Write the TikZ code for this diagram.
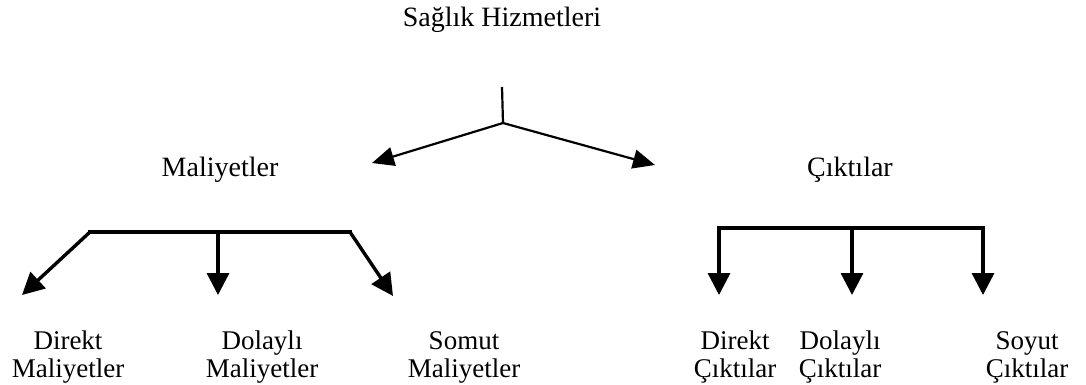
\documentclass[tikz,border=0pt]{standalone}
\usepackage{fontspec}
\setmainfont{Liberation Serif}
\usetikzlibrary{arrows.meta}
\begin{document}
\begin{tikzpicture}[x=1pt,y=-1pt,
  lbl/.style={font=\fontsize{28}{25}\selectfont, inner sep=0pt, align=center},
  leaf/.style={font=\fontsize{27}{28}\selectfont, inner sep=0pt, align=center},
  toparrow/.style={line width=2.2pt, -{Triangle[length=22pt,width=19pt]}},
  bar/.style={line width=3.4pt, line cap=rect},
  subarrow/.style={line width=3.4pt, -{Triangle[length=22pt,width=22pt]}}]
\useasboundingbox (0,0) rectangle (1086,384);

% headings
\node[lbl] (title) at (502,20) {Sağlık Hizmetleri};
\node[lbl] (mal) at (220,170) {Maliyetler};
\node[lbl] (cik) at (850,170) {Çıktılar};

% split from the title into the two branches
\coordinate (stem) at (502,87);
\coordinate (fork) at (503,123);
\coordinate (malTip) at (372,163);
\coordinate (cikTip) at (655,165);
\draw[line width=2.2pt] (stem) -- (fork);
\draw[toparrow] (fork) -- (malTip);
\draw[toparrow] (fork) -- (cikTip);

% cost branch
\coordinate (mL) at (90,232);
\coordinate (mM) at (218,232);
\coordinate (mR) at (350,232);
\coordinate (mLt) at (22,295);
\coordinate (mMt) at (218,295);
\coordinate (mRt) at (393,296);
\draw[bar] (mL) -- (mR);
\draw[subarrow] (mL) -- (mLt);
\draw[subarrow] (mM) -- (mMt);
\draw[subarrow] (mR) -- (mRt);

% output branch
\coordinate (cL) at (719,228);
\coordinate (cM) at (852,228);
\coordinate (cR) at (983,228);
\coordinate (cLt) at (719,295);
\coordinate (cMt) at (852,295);
\coordinate (cRt) at (983,295);
\draw[bar] (cL) -- (cR);
\draw[subarrow] (cL) -- (cLt);
\draw[subarrow] (cM) -- (cMt);
\draw[subarrow] (cR) -- (cRt);

% leaf labels
\node[leaf] (dm) at (68,357) {Direkt\\Maliyetler};
\node[leaf] (om) at (262,357) {Dolaylı\\Maliyetler};
\node[leaf] (sm) at (464,357) {Somut\\Maliyetler};
\node[leaf] (dc) at (735,357) {Direkt\\Çıktılar};
\node[leaf] (oc) at (840,357) {Dolaylı\\Çıktılar};
\node[leaf] (sc) at (1027,357) {Soyut\\Çıktılar};
\end{tikzpicture}
\end{document}
